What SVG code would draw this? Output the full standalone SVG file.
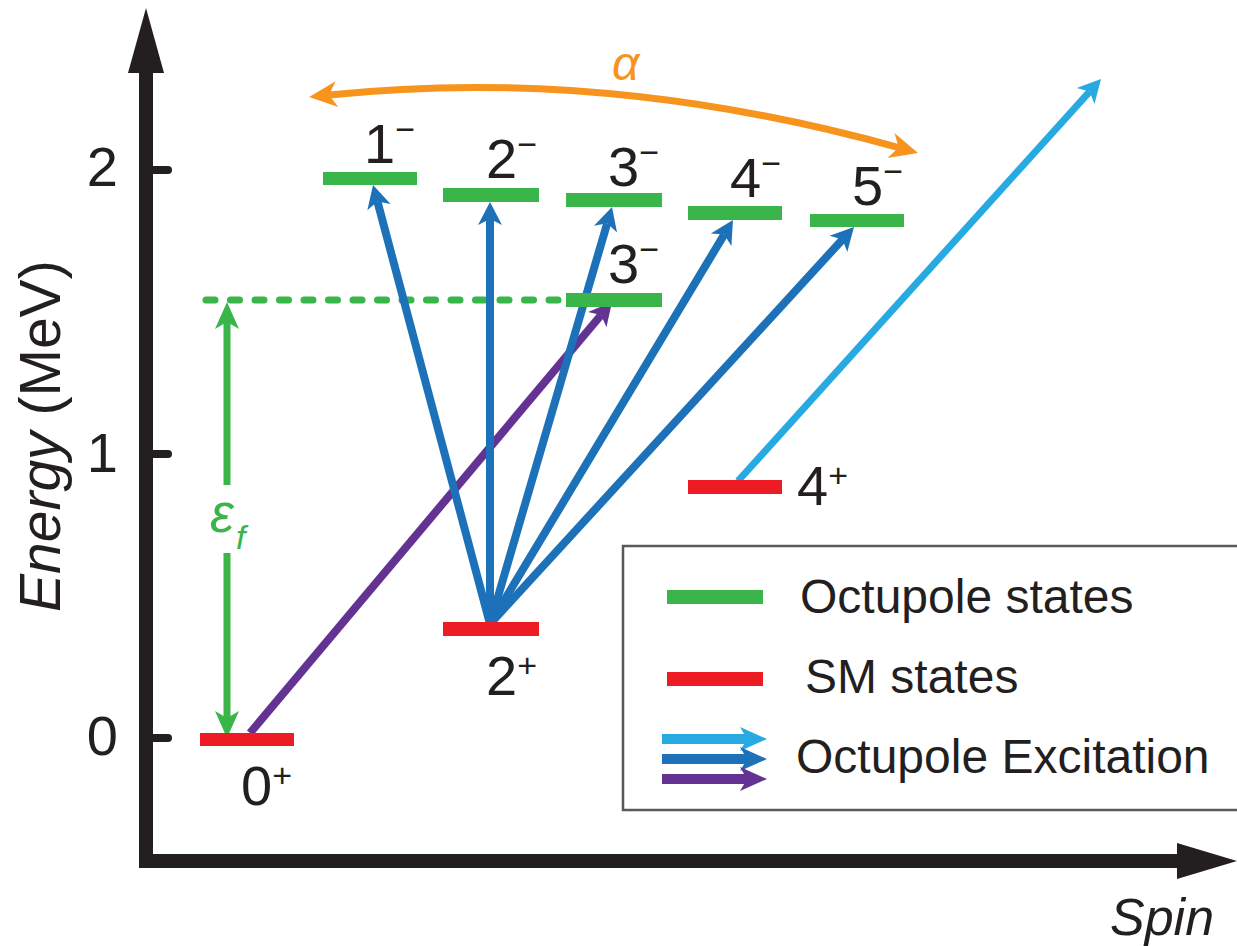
<svg xmlns="http://www.w3.org/2000/svg" width="1237" height="946" viewBox="0 0 1237 946">
<style>
text{font-family:"Liberation Sans",Arial,Helvetica,sans-serif;fill:#231f20}
.lbl{font-size:56px}
.sup{font-size:34px}
.leg{font-size:48px}
.green{fill:#39b54a}
.red{fill:#ed1c24}
.blue{stroke:#1c71b8;stroke-width:8;fill:none}
</style>
<defs>
<marker id="hBlue" markerUnits="userSpaceOnUse" orient="auto" style="overflow:visible"><path d="M17,0 L-6,-12 L0,0 L-6,12Z" fill="#1c71b8"/></marker>
<marker id="hPurple" markerUnits="userSpaceOnUse" orient="auto" style="overflow:visible"><path d="M17,0 L-6,-12 L0,0 L-6,12Z" fill="#643292"/></marker>
<marker id="hLight" markerUnits="userSpaceOnUse" orient="auto" style="overflow:visible"><path d="M17,0 L-6,-12 L0,0 L-6,12Z" fill="#27aae1"/></marker>
<marker id="hGreen" markerUnits="userSpaceOnUse" orient="auto" style="overflow:visible"><path d="M20,0 L-7,-12 L0,0 L-7,12Z" fill="#39b54a"/></marker>
<marker id="hOrange" markerUnits="userSpaceOnUse" orient="auto-start-reverse" style="overflow:visible"><path d="M20,0 L-8,-13 L0,0 L-8,13Z" fill="#f7941d"/></marker>
<marker id="lBlue" markerUnits="userSpaceOnUse" orient="auto" style="overflow:visible"><path d="M20,0 L-7,-12 L0,0 L-7,12Z" fill="#1c71b8"/></marker>
<marker id="lLight" markerUnits="userSpaceOnUse" orient="auto" style="overflow:visible"><path d="M20,0 L-7,-12 L0,0 L-7,12Z" fill="#27aae1"/></marker>
<marker id="lPurple" markerUnits="userSpaceOnUse" orient="auto" style="overflow:visible"><path d="M20,0 L-7,-12 L0,0 L-7,12Z" fill="#643292"/></marker>
</defs>

<g id="axes">
<line x1="146" y1="70" x2="146" y2="868" stroke="#231f20" stroke-width="14"/>
<polygon points="146,8 128,73 164,73" fill="#231f20"/>
<line x1="139" y1="861" x2="1180" y2="861" stroke="#231f20" stroke-width="14"/>
<polygon points="1237,861 1177,843 1177,879" fill="#231f20"/>
<g stroke="#231f20" stroke-width="8" stroke-linecap="round">
<line x1="150" y1="170" x2="168" y2="170"/>
<line x1="150" y1="454" x2="168" y2="454"/>
<line x1="150" y1="738" x2="168" y2="738"/>
</g>
<text class="lbl" x="118" y="186" text-anchor="end">2</text>
<text class="lbl" x="118" y="472" text-anchor="end">1</text>
<text class="lbl" x="118" y="755" text-anchor="end">0</text>
<text transform="translate(60,612) rotate(-90)" style="font-size:57px"><tspan font-style="italic">Energy</tspan> (MeV)</text>
<text x="1110" y="935" style="font-size:52px;font-style:italic">Spin</text>
</g>

<g id="connectors">
<line x1="206" y1="300" x2="560" y2="300" stroke="#39b54a" stroke-width="7" stroke-dasharray="9 15.5" stroke-linecap="round"/>
<line x1="227" y1="485" x2="227" y2="322" stroke="#39b54a" stroke-width="7" marker-end="url(#hGreen)"/>
<line x1="227" y1="553" x2="227" y2="718" stroke="#39b54a" stroke-width="7" marker-end="url(#hGreen)"/>
<path d="M329,95 Q605,66 898.7,147.6" fill="none" stroke="#f7941d" stroke-width="7" marker-start="url(#hOrange)" marker-end="url(#hOrange)"/>
<line x1="250" y1="733" x2="601.1" y2="315" stroke="#643292" stroke-width="8" marker-end="url(#hPurple)"/>
<line class="blue" x1="490" y1="624" x2="377.4" y2="201.4" marker-end="url(#hBlue)"/>
<line class="blue" x1="490" y1="624" x2="490" y2="219" marker-end="url(#hBlue)"/>
<line class="blue" x1="490" y1="624" x2="607.2" y2="223.3" marker-end="url(#hBlue)"/>
<line class="blue" x1="490" y1="624" x2="724.2" y2="234.6" marker-end="url(#hBlue)"/>
<line class="blue" x1="490" y1="624" x2="842.5" y2="239.5" marker-end="url(#hBlue)"/>
<line x1="738" y1="481" x2="1089.6" y2="91.6" stroke="#27aae1" stroke-width="7" marker-end="url(#hLight)"/>
</g>

<text id="alpha" x="612" y="80" style="font-size:48px;font-style:italic;fill:#f7941d">α</text>
<text id="eps" x="210" y="532" style="font-size:54px;font-style:italic;fill:#39b54a">ε<tspan x="236" y="549" style="font-size:34px">f</tspan></text>

<g id="n0p"><rect class="red" x="200" y="733" width="94" height="13"/><text class="lbl" x="241" y="805">0<tspan class="sup" dy="-18">+</tspan></text></g>
<g id="n2p"><rect class="red" x="443" y="622" width="96" height="14"/><text class="lbl" x="486" y="695">2<tspan class="sup" dy="-18">+</tspan></text></g>
<g id="n4p"><rect class="red" x="688" y="480" width="94" height="14"/><text class="lbl" x="797" y="505">4<tspan class="sup" dy="-18">+</tspan></text></g>
<g id="n1m"><rect class="green" x="323" y="172" width="94" height="13"/><text class="lbl" x="364" y="163">1<tspan class="sup" dy="-22">−</tspan></text></g>
<g id="n2m"><rect class="green" x="443" y="188" width="96" height="14"/><text class="lbl" x="486" y="178">2<tspan class="sup" dy="-22">−</tspan></text></g>
<g id="n3m"><rect class="green" x="566" y="193" width="96" height="14"/><text class="lbl" x="608" y="186">3<tspan class="sup" dy="-22">−</tspan></text></g>
<g id="n4m"><rect class="green" x="688" y="206" width="94" height="14"/><text class="lbl" x="730" y="197">4<tspan class="sup" dy="-22">−</tspan></text></g>
<g id="n5m"><rect class="green" x="810" y="214" width="94" height="13"/><text class="lbl" x="852" y="205">5<tspan class="sup" dy="-22">−</tspan></text></g>
<g id="n3m_low"><rect class="green" x="566" y="293" width="96" height="14"/><text class="lbl" x="608" y="283">3<tspan class="sup" dy="-22">−</tspan></text></g>

<g id="legend">
<rect x="623" y="546" width="630" height="264" fill="none" stroke="#58595b" stroke-width="2.5"/>
<rect class="green" x="667" y="590" width="96" height="14"/>
<rect class="red" x="667" y="672" width="96" height="14"/>
<line x1="662" y1="739" x2="747" y2="739" stroke="#27aae1" stroke-width="10" marker-end="url(#lLight)"/>
<line x1="662" y1="759" x2="747" y2="759" stroke="#1c71b8" stroke-width="10" marker-end="url(#lBlue)"/>
<line x1="662" y1="779" x2="747" y2="779" stroke="#643292" stroke-width="10" marker-end="url(#lPurple)"/>
<text class="leg" x="800" y="613">Octupole states</text>
<text class="leg" x="805" y="693">SM states</text>
<text class="leg" x="796" y="773">Octupole Excitation</text>
</g>
</svg>
